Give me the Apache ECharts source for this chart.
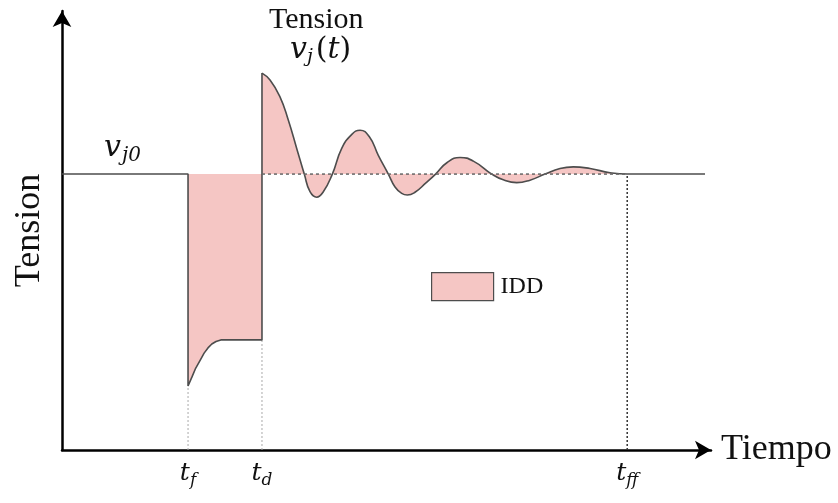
<!DOCTYPE html>
<html>
<head>
<meta charset="utf-8">
<script src="https://cdn.jsdelivr.net/npm/echarts@6/dist/echarts.min.js"></script>
<style>
  html, body { margin: 0; padding: 0; background: #fff; }
  #main { width: 838px; height: 503px; }
</style>
</head>
<body>
<div id="main"></div>
<script>
// pre-fault voltage level (p.u.)
var v0 = 1.0;

// fault instants on the time axis
var tickValues = [19.6, 31.1, 87.9];
var tickSubs = ['f', 'd', 'ff'];
var guideTop = [0.232, 0.399, 1.0];

// pre-fault, sag and recovery during the fault
var faultTime = [0, 19.6, 19.6, 20.2, 20.8, 21.5, 22.1, 22.7, 23.3, 23.95, 24.7, 31.1, 31.1];
var faultVolt = [1.0, 1.0, 0.232, 0.264, 0.297, 0.326, 0.351, 0.370, 0.384, 0.393, 0.399, 0.399, 1.366];

// overshoot and damped oscillation after clearing
var oscTime = [31.1, 32.35, 33.9, 35.19, 36.5, 37.68, 38.57, 39.61, 40.64, 42.04, 43.5, 45.0,
  46.35, 47.8, 49.19, 50.75, 51.79, 52.83, 53.7, 54.9, 56.6, 58.1, 59.9, 61.9, 63.97,
  66.83, 68.63, 70.72, 72.78, 75.12, 77.45, 79.52, 82.12, 85.23, 87.9, 100];
var oscVolt = [1.366, 1.341, 1.28, 1.196, 1.093, 1.0, 0.936, 0.916, 0.936, 1.0, 1.093, 1.142,
  1.159, 1.135, 1.068, 1.0, 0.953, 0.93, 0.924, 0.934, 0.968, 1.0, 1.042, 1.06, 1.047,
  1.0, 0.979, 0.969, 0.978, 1.0, 1.02, 1.026, 1.02, 1.005, 1.0, 1.0];

function zip(xs, ys) {
  var out = [];
  for (var i = 0; i < xs.length; i++) out.push([xs[i], ys[i]]);
  return out;
}

var fill = '#f5c6c4';
var ink = '#4d4d4d';
var serif = 'Liberation Serif';
var math = 'DejaVu Serif';

var series = [
  {
    name: 'IDD', type: 'line', data: zip(faultTime, faultVolt),
    showSymbol: false, lineStyle: { color: ink, width: 1.6 },
    areaStyle: { color: fill, opacity: 1, origin: v0 }, z: 2
  },
  {
    name: 'IDD', type: 'line', data: zip(oscTime, oscVolt),
    smooth: 0.5, showSymbol: false,
    lineStyle: { color: ink, width: 1.6 },
    areaStyle: { color: fill, opacity: 1, origin: v0 }, z: 2
  },
  {
    name: 'base', type: 'line', data: [[tickValues[1], v0], [tickValues[2], v0]],
    showSymbol: false, lineStyle: { color: '#666', width: 1.5, type: [3, 3] }, z: 3
  }
];

for (var i = 0; i < tickValues.length; i++) {
  series.push({
    name: 'guide' + i, type: 'line',
    data: [[tickValues[i], 0], [tickValues[i], guideTop[i]]],
    showSymbol: false,
    lineStyle: {
      color: i == 2 ? '#333' : '#aaa', width: i == 2 ? 1.5 : 1, type: [2, 2]
    },
    z: 1
  });
}

var option = {
  animation: false,
  grid: { left: 62, right: 127, top: 11, bottom: 53 },
  legend: {
    data: ['IDD'], left: 431, top: 272, icon: 'rect', padding: 0,
    itemWidth: 62, itemHeight: 28,
    itemStyle: { color: fill, borderColor: ink, borderWidth: 1.2 },
    textStyle: { fontFamily: serif, fontSize: 24, color: '#111', padding: [0, 0, 0, 2] }
  },
  xAxis: {
    type: 'value', min: 0, max: 100.93,
    name: 'Tiempo', nameLocation: 'end', nameGap: 10,
    nameTextStyle: { fontFamily: serif, fontSize: 36, color: '#111' },
    axisLine: { lineStyle: { color: '#000', width: 2.5 }, symbol: ['none', 'arrow'], symbolSize: [14, 16] },
    axisTick: { show: false },
    splitLine: { show: false },
    axisLabel: {
      customValues: tickValues, margin: 8,
      formatter: function (val) {
        var k = tickValues.indexOf(val);
        return '{t|t}{s|' + tickSubs[k] + '}';
      },
      rich: {
        t: { fontFamily: math, fontStyle: 'italic', fontSize: 25, color: '#111' },
        s: { fontFamily: math, fontStyle: 'italic', fontSize: 17, color: '#111', padding: [14, 0, 0, 0] }
      }
    }
  },
  yAxis: {
    type: 'value', min: 0, max: 1.591,
    name: 'Tension', nameLocation: 'middle', nameGap: 14,
    nameTextStyle: { fontFamily: serif, fontSize: 36, color: '#111' },
    axisLine: { lineStyle: { color: '#000', width: 2.5 }, symbol: ['none', 'arrow'], symbolSize: [14, 16] },
    axisTick: { show: false },
    axisLabel: { show: false },
    splitLine: { show: false }
  },
  graphic: [
    {
      type: 'text', left: 269, top: 5,
      style: { text: 'Tension', font: '30px "Liberation Serif"', fill: '#111' }
    },
    {
      type: 'text', left: 290, top: 35,
      style: {
        text: '{v|v}{s|j}{p|(}{v|t}{p|)}',
        rich: {
          v: { fontFamily: math, fontStyle: 'italic', fontSize: 30, fill: '#111' },
          s: { fontFamily: math, fontStyle: 'italic', fontSize: 19, fill: '#111', padding: [15, 3, 0, 0] },
          p: { fontFamily: math, fontSize: 30, fill: '#111' }
        }
      }
    },
    {
      type: 'text', left: 104, top: 133,
      style: {
        text: '{v|v}{s|j0}',
        rich: {
          v: { fontFamily: math, fontStyle: 'italic', fontSize: 30, fill: '#111' },
          s: { fontFamily: math, fontStyle: 'italic', fontSize: 20, fill: '#111', padding: [15, 0, 0, 1] }
        }
      }
    }
  ],
  series: series
};

var mychart = echarts.init(document.getElementById('main'));
mychart.setOption(option);
</script>
</body>
</html>
